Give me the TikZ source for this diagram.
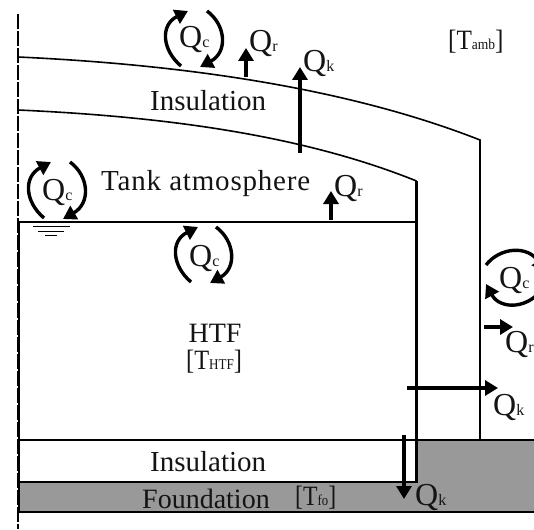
\documentclass[tikz,border=0pt]{standalone}
\usepackage{fontspec}
\setmainfont{Liberation Serif}
\usetikzlibrary{arrows.meta}
\newcommand{\bigtxt}{\fontsize{29}{30}\selectfont}
\newcommand{\qfont}{\fontsize{32}{34}\selectfont}
\newcommand{\smallsub}{\fontsize{16}{18}\selectfont}
\newcommand{\sublab}[2]{{\qfont #1}{\smallsub #2}}
\newcommand{\brlab}[3]{\scalebox{#1}[1]{{\fontsize{28}{30}\selectfont[T}{\fontsize{15}{18}\selectfont #2}{\fontsize{28}{30}\selectfont]}}}
\tikzset{
  x=1pt,y=-1pt,
  wall/.style={line width=1.6pt,black},
  thick wall/.style={line width=2.2pt,black},
  flux/.style={line width=3.2pt,-{Triangle[length=13pt,width=15pt]}},
  swirl/.style={line width=3.4pt,line cap=butt},
  swirlarrow/.style={swirl,-{Triangle[length=13pt,width=15pt]}},
  lab/.style={inner sep=0pt,anchor=base west,text=black!92},
}
\begin{document}
\begin{tikzpicture}
\useasboundingbox (0,0) rectangle (534,529);
\clip (0,0) rectangle (534,529);
% foundation
\fill[black!40] (417,440) -- (534,440) -- (534,512) -- (19,512) -- (19,482) -- (417,482) -- cycle;
% axis
\draw[line width=1.6pt,dash pattern=on 15pt off 2pt] (18,14) -- (18,529);
% roof
\coordinate (o0) at (18,57);
\coordinate (o1) at (480,140);
\coordinate (i0) at (18,110);
\coordinate (i1) at (416.5,181);
\draw[wall] (o0) .. controls (170,64) and (340,85) .. (o1) -- (480,440);
\draw[wall] (i0) .. controls (150,116) and (295,132) .. (i1);
\draw[thick wall] (416.5,181) -- (416.5,483);
\draw[thick wall] (18,222) -- (417,222);
\draw[thick wall] (19,222) -- (19,512);
\draw[thick wall] (18,440) -- (534,440);
\draw[thick wall] (18,482) -- (417.5,482);
\draw[thick wall] (18,512) -- (534,512);
% liquid level
\draw[line width=1pt] (33,226) -- (70,226);
\draw[line width=1pt] (38,231) -- (64,231);
\draw[line width=1pt] (45,235) -- (57,235);
% flux arrows
\draw[flux] (246,77) -- (246,48);
\draw[flux] (300,153) -- (300,67);
\draw[flux] (331,220) -- (331,191);
\draw[flux] (484,327) -- (513,327);
\draw[flux] (407,388) -- (498,388);
\draw[flux] (404,435) -- (404,499);
% swirls
\draw[swirlarrow] (181,66) .. controls (162,50) and (160,25) .. (188,11);
\draw[swirlarrow] (207,11) .. controls (226,25) and (228,52) .. (200,67);
\draw[swirlarrow] (44,218) .. controls (25,202) and (23,177) .. (51,162);
\draw[swirlarrow] (70,162) .. controls (89,176) and (91,203) .. (63,219);
\draw[swirlarrow] (191,282) .. controls (172,266) and (170,241) .. (198,227);
\draw[swirlarrow] (216,227) .. controls (235,241) and (237,268) .. (210,283);
\draw[swirlarrow] (486,265) .. controls (500,247) and (528,245) .. (545,272);
\draw[swirlarrow] (545,285) .. controls (530,310) and (500,310) .. (486,284);
% labels
\node[lab] (ins1) at (150,111) {\bigtxt Insulation};
\node[lab] (atm) at (101,190) {\bigtxt\addfontfeatures{LetterSpace=2.8}Tank atmosphere};
\node[lab] (ins2) at (150,471) {\bigtxt Insulation};
\node[lab] (fou) at (142,508) {\fontsize{28}{30}\selectfont Foundation};
\node[inner sep=0pt,anchor=base,text=black!92] (htf) at (215,342) {\fontsize{28}{30}\selectfont HTF};
\node[lab] (thtf) at (186,369) {\brlab{0.87}{HTF}{}};
\node[lab] (tfo) at (295,505) {\brlab{0.85}{fo}{}};
\node[lab] (tamb) at (448,50) {\brlab{0.9}{amb}{}};
\node[lab] (qc1) at (179,48) {\sublab{Q}{c}};
\node[lab] (qc2) at (42,200) {\sublab{Q}{c}};
\node[lab] (qc3) at (189,266) {\sublab{Q}{c}};
\node[lab] (qc4) at (499,288) {\sublab{Q}{c}};
\node[lab] (qr1) at (249,52) {\sublab{Q}{r}};
\node[lab] (qk1) at (303,72) {\sublab{Q}{k}};
\node[lab] (qr2) at (334,196) {\sublab{Q}{r}};
\node[lab] (qr3) at (505,352) {\sublab{Q}{r}};
\node[lab] (qk2) at (493,415) {\sublab{Q}{k}};
\node[lab] (qk3) at (415,505) {\sublab{Q}{k}};
\end{tikzpicture}
\end{document}
